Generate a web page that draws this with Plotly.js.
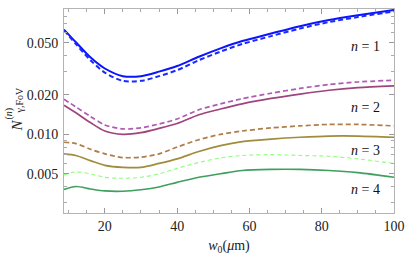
<!DOCTYPE html>
<html><head><meta charset="utf-8">
<script src="https://cdn.plot.ly/plotly-3.0.1.min.js"></script>
<style>html,body{margin:0;padding:0;background:#fff}#c{width:407px;height:255px}</style>
</head><body><div id="c"></div>
<script>
const w0 = [8.7, 12, 16, 20, 25, 30, 35, 40, 46, 52, 58, 66, 74, 82, 90, 100];
const n1Solid = [0.063, 0.0504, 0.0387, 0.0318, 0.0278, 0.0278, 0.0301, 0.0332, 0.0391, 0.0453, 0.0515, 0.0588, 0.0669, 0.0745, 0.0810, 0.0890];
const n1Dash  = [0.0625, 0.0489, 0.0368, 0.0296, 0.0256, 0.0256, 0.0278, 0.0309, 0.0368, 0.0428, 0.0489, 0.0562, 0.0642, 0.0719, 0.0786, 0.0868];
const n2Solid = [0.0167, 0.0146, 0.0123, 0.0106, 0.0100, 0.0103, 0.0111, 0.0121, 0.0141, 0.0156, 0.0171, 0.0188, 0.0203, 0.0217, 0.0227, 0.0234];
const n2Dash  = [0.0185, 0.0162, 0.0137, 0.0118, 0.0110, 0.0112, 0.0120, 0.0131, 0.0154, 0.0171, 0.0187, 0.0206, 0.0224, 0.0240, 0.0251, 0.0259];
const n3Solid = [0.0071, 0.0069, 0.0063, 0.0058, 0.0056, 0.0056, 0.0060, 0.0065, 0.0074, 0.0082, 0.0088, 0.0092, 0.0095, 0.0097, 0.0097, 0.0095];
const n3Dash  = [0.0087, 0.0085, 0.0077, 0.0071, 0.00665, 0.0067, 0.0071, 0.0080, 0.0091, 0.0100, 0.0106, 0.0112, 0.0116, 0.0119, 0.0119, 0.0116];
const n4Solid = [0.0038, 0.0040, 0.00383, 0.0037, 0.00368, 0.00378, 0.00397, 0.0043, 0.0047, 0.0050, 0.0053, 0.0054, 0.0054, 0.0053, 0.0051, 0.0047];
const n4Dash  = [0.0049, 0.00517, 0.0050, 0.0047, 0.00462, 0.0047, 0.0050, 0.0055, 0.0061, 0.0066, 0.0069, 0.0070, 0.0069, 0.0068, 0.0065, 0.0060];
const yTickVals = [0.005, 0.01, 0.02, 0.05];
const yTickText = ['0.005', '0.010', '0.020', '0.050'];
const yMinorVals = [0.003, 0.004, 0.006, 0.007, 0.008, 0.009, 0.03, 0.04, 0.06, 0.07, 0.08, 0.09];
const xTickVals = [20, 40, 60, 80, 100];
const labels = ['<i>n</i> = 1', '<i>n</i> = 2', '<i>n</i> = 3', '<i>n</i> = 4'];
const labelY = [0.047, 0.0161, 0.0075, 0.0038];

function tr(y, color, width, dash) {
  return {x: w0, y: y, type: 'scatter', mode: 'lines',
    line: {color: color, width: width, dash: dash || 'solid', shape: 'spline', smoothing: 0.8},
    hoverinfo: 'skip', showlegend: false};
}
const data = [
  tr(n4Solid, '#3f9f5f', 1.6),
  tr(n4Dash, '#8cff7a', 1.1, '4px,3px'),
  tr(n3Solid, '#a08c3c', 1.7),
  tr(n3Dash, '#b07d4a', 1.7, '5px,3px'),
  tr(n2Solid, '#a0447c', 1.7),
  tr(n2Dash, '#b25ab2', 1.7, '5px,3px'),
  tr(n1Solid, '#0a14ff', 2),
  tr(n1Dash, '#1a2aff', 2, '5px,3px')
];
const fam = 'Liberation Serif, Times New Roman, serif';
const font = {family: fam, size: 14, color: '#222'};
const py = p => (213 - p) / 204;
const px = p => (p - 64) / 330;
const ytitle = [
  {text: '<i>N</i>', x: px(16.5), y: py(125), size: 15},
  {text: '(<i>n</i>)', x: px(9), y: py(113.5), size: 10},
  {text: 'γ,FoV', x: px(19.5), y: py(101), size: 10}
].map(o => ({xref: 'paper', yref: 'paper', x: o.x, y: o.y, xanchor: 'center', yanchor: 'middle',
  text: o.text, textangle: -90, showarrow: false, font: {family: fam, size: o.size, color: '#222'}}));
const layout = {
  width: 407, height: 255,
  margin: {l: 64, r: 13, t: 9, b: 42},
  paper_bgcolor: '#fff', plot_bgcolor: '#fff',
  font: font,
  xaxis: {range: [8.7, 100], tickvals: xTickVals, ticks: 'inside', ticklen: 5, tickcolor: '#999',
    showline: true, linecolor: '#b4b4b4', linewidth: 1, mirror: 'ticks', showgrid: false, zeroline: false,
    minor: {dtick: 5, ticks: 'inside', ticklen: 3, tickcolor: '#aaa'},
    tickfont: font,
    title: {text: '<i>w</i><sub>0</sub>(<i>μ</i>m)', font: font, standoff: 8}},
  yaxis: {type: 'log', range: [Math.log10(0.00251), Math.log10(0.0905)], tickvals: yTickVals, ticktext: yTickText,
    ticks: 'inside', ticklen: 5, tickcolor: '#999',
    showline: true, linecolor: '#b4b4b4', linewidth: 1, mirror: 'ticks', showgrid: false, zeroline: false,
    minor: {tickvals: yMinorVals, ticks: 'inside', ticklen: 3, tickcolor: '#aaa'},
    tickfont: font, ticklabelstandoff: 2},
  annotations: labels.map((t, i) => ({x: 92, y: Math.log10(labelY[i]), xref: 'x', yref: 'y', text: t,
    showarrow: false, font: {family: fam, size: 14, color: '#111'}})).concat(ytitle)
};
Plotly.newPlot('c', data, layout, {staticPlot: true, displayModeBar: false});
</script></body></html>
